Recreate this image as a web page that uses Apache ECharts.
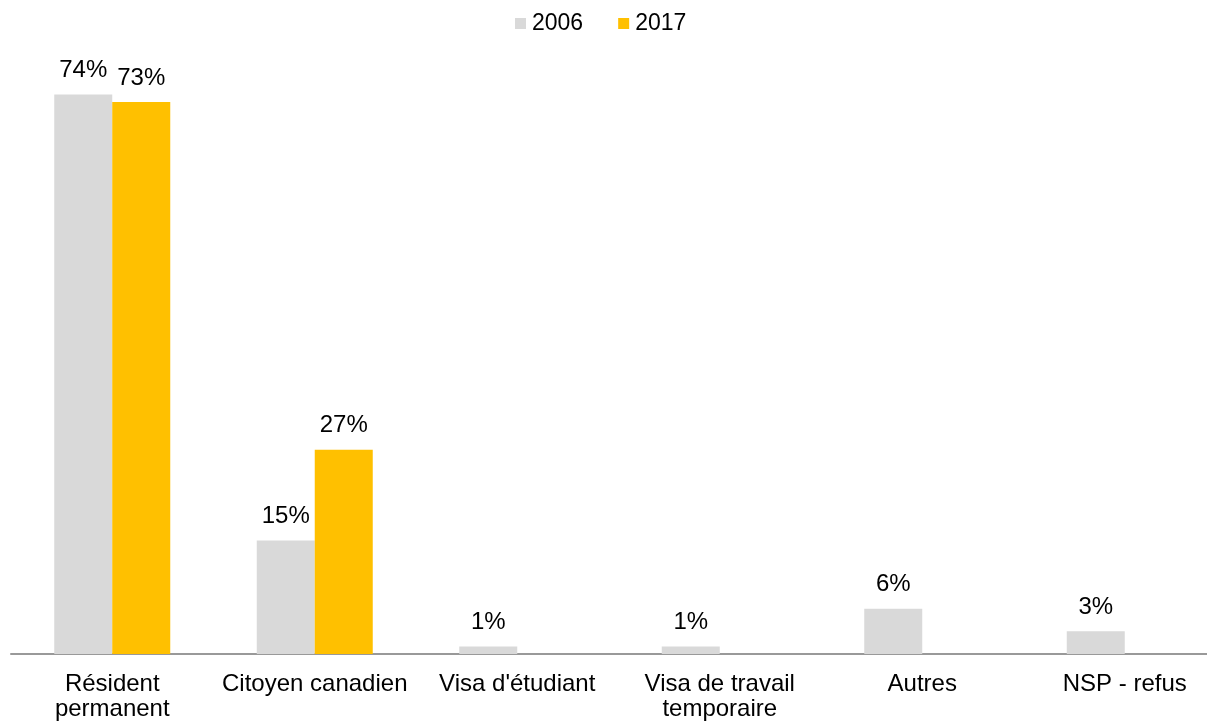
<!DOCTYPE html>
<html>
<head>
<meta charset="utf-8">
<style>
  html, body { margin: 0; padding: 0; background: #fff; }
  #chart { width: 1207px; height: 725px; }
</style>
<script src="https://cdn.jsdelivr.net/npm/echarts@6/dist/echarts.min.js"></script>
</head>
<body>
<div id="chart"></div>
<script>
(function () {
  const categories = [
    "Résident\npermanent",
    "Citoyen canadien",
    "Visa d'étudiant",
    "Visa de travail\ntemporaire",
    "Autres",
    "NSP - refus"
  ];
  const values2006 = [74, 15, 1, 1, 6, 3];
  const values2017 = [73, 27, null, null, null, null];

  const font = "'Liberation Sans', Arial, sans-serif";

  const chart = echarts.init(document.getElementById("chart"));

  const labelStyle = {
    show: true,
    position: "top",
    distance: 12,
    formatter: "{c}%",
    color: "#000",
    fontSize: 24,
    fontFamily: font
  };

  const option = {
    animation: false,
    legend: {
      top: 12,
      left: 515,
      padding: 0,
      itemWidth: 11,
      itemHeight: 11,
      itemGap: 35,
      icon: "rect",
      textStyle: { fontSize: 23, fontFamily: font, color: "#000", padding: [0, 0, 0, 1] },
      data: ["2006", "2017"]
    },
    grid: {
      left: 11,
      right: -19,
      top: 49,
      bottom: 71,
      outerBoundsMode: "none"
    },
    xAxis: {
      type: "category",
      data: categories,
      axisTick: { show: false },
      axisLine: { lineStyle: { color: "#999", width: 2 } },
      axisLabel: {
        interval: 0,
        color: "#000",
        fontSize: 24,
        fontFamily: font,
        margin: 18,
        lineHeight: 25
      }
    },
    yAxis: {
      type: "value",
      min: 0,
      max: 80,
      show: false,
      splitLine: { show: false }
    },
    series: [
      {
        name: "2006",
        type: "bar",
        data: values2006,
        barWidth: 58,
        barGap: "0%",
        itemStyle: { color: "#D9D9D9" },
        label: labelStyle
      },
      {
        name: "2017",
        type: "bar",
        data: values2017,
        barWidth: 58,
        barGap: "0%",
        itemStyle: { color: "#FFC000" },
        label: labelStyle
      }
    ]
  };

  chart.setOption(option);

  window.addEventListener("resize", () => {
    chart.resize();
  });
})();
</script>
</body>
</html>
